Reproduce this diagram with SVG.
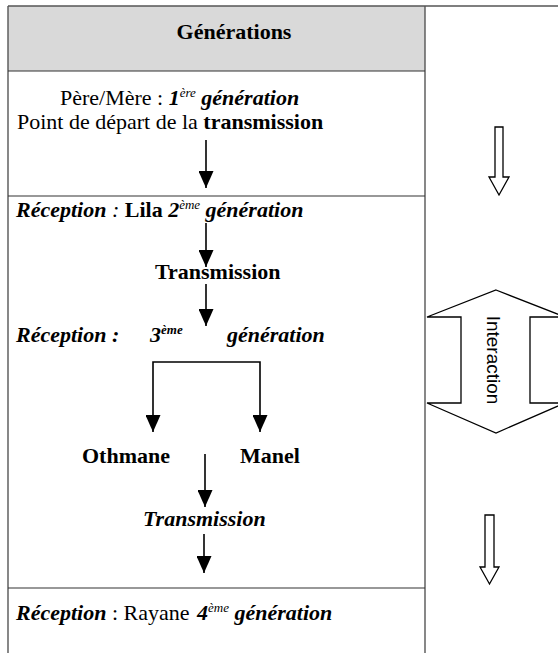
<svg xmlns="http://www.w3.org/2000/svg" width="558" height="653" viewBox="0 0 558 653">
<defs>
<style>
.t{font-family:"Liberation Serif","Times New Roman",serif;font-size:22px;fill:#000}
.b{font-weight:bold}
.i{font-style:italic}
.sup{font-size:13px}
.grid{stroke:#555;stroke-width:1.4;fill:none}
.in{stroke:#333;stroke-width:1.2}
.con{stroke:#000;stroke-width:1.6;fill:none;marker-end:url(#ah)}
.hollow{fill:#fff;stroke:#000;stroke-width:1.3}
</style>
<marker id="ah" markerUnits="userSpaceOnUse" markerWidth="17" markerHeight="15" refX="17" refY="7.5" orient="auto">
<path d="M0,0 L17,7.5 L0,15 z" fill="#000"/>
</marker>
</defs>
<g id="table">
<rect x="8" y="6" width="417" height="65" fill="#d9d9d9"/>
<line class="grid" x1="8" y1="6" x2="558" y2="6"/>
<line class="grid" x1="8" y1="6" x2="8" y2="653"/>
<line class="grid" x1="425" y1="6" x2="425" y2="653"/>
<line class="in" x1="8" y1="71" x2="425" y2="71"/>
<line class="in" x1="8" y1="196" x2="425" y2="196"/>
<line class="in" x1="8" y1="588" x2="425" y2="588"/>
</g>
<g id="header"><text class="t b" x="234" y="39" text-anchor="middle">Générations</text></g>
<g id="gen1">
<text class="t" x="60" y="105">Père/Mère : <tspan class="b i">1</tspan><tspan class="i sup" dy="-8">ère</tspan><tspan class="b i" dy="8"> génération</tspan></text>
<text class="t" x="17" y="129">Point de départ de la <tspan class="b">transmission</tspan></text>
</g>
<g id="gen2">
<text class="t" x="16" y="217"><tspan class="b i">Réception</tspan><tspan class="i"> : </tspan><tspan class="b">Lila </tspan><tspan class="b i">2</tspan><tspan class="i sup" dy="-8">ème</tspan><tspan class="b i" dy="8"> génération</tspan></text>
</g>
<g id="trans1"><text class="t b" x="155" y="279">Transmission</text></g>
<g id="gen3">
<text class="t" x="16" y="342"><tspan class="b i">Réception :</tspan><tspan class="b i" x="150">3</tspan><tspan class="i sup b" dy="-8">ème</tspan><tspan class="b i" x="227" dy="8">génération</tspan></text>
</g>
<g id="othmane"><text class="t b" x="82" y="463">Othmane</text></g>
<g id="manel"><text class="t b" x="240" y="463">Manel</text></g>
<g id="trans2"><text class="t b i" x="143" y="526">Transmission</text></g>
<g id="gen4">
<text class="t" x="16" y="620"><tspan class="b i">Réception</tspan> : Rayane<tspan class="b i" x="197">4</tspan><tspan class="i sup" dy="-8">ème</tspan><tspan class="b i" dy="8"> génération</tspan></text>
</g>
<g id="connectors">
<line class="con" x1="206" y1="140" x2="206" y2="188"/>
<line class="con" x1="206" y1="223" x2="206" y2="267"/>
<line class="con" x1="206" y1="284" x2="206" y2="326"/>
<path class="con" d="M206,362 H153 V432"/>
<path class="con" d="M206,362 H260 V432"/>
<line class="con" x1="205" y1="454" x2="205" y2="507"/>
<line class="con" x1="204" y1="534" x2="204" y2="573"/>
</g>
<g id="flow-arrow-1"><polygon class="hollow" points="495,127 503,127 503,177 509,177 499,195 489,177 495,177"/></g>
<g id="interaction">
<polygon class="hollow" points="496,290 565,317 530,317 530,403 565,403 496,433 427,403 461,403 461,317 427,317"/>
<text transform="translate(487,360) rotate(90)" text-anchor="middle" font-family="Liberation Sans, Arial, sans-serif" font-size="19" fill="#000">Interaction</text>
</g>
<g id="flow-arrow-2"><polygon class="hollow" points="485,515 494,515 494,567 499,567 489.5,584 480,567 485,567"/></g>
</svg>
